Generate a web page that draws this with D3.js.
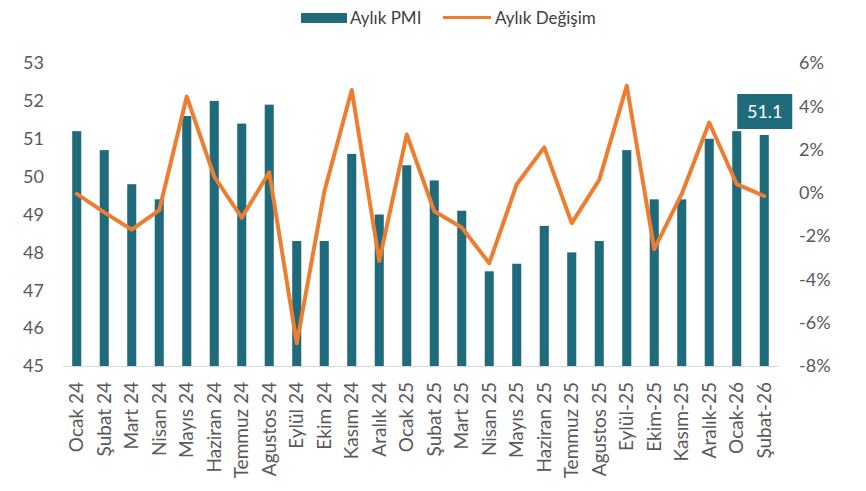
<!DOCTYPE html>
<html>
<head>
<meta charset="utf-8">
<script src="https://cdn.jsdelivr.net/npm/d3@7"></script>
<style>
  body { margin: 0; background: #fff; }
  text { font-family: Lato, "Open Sans", sans-serif; }
</style>
</head>
<body>
<script>
var months = ["Ocak 24", "Şubat 24", "Mart 24", "Nisan 24", "Mayıs 24", "Haziran 24",
  "Temmuz 24", "Agustos 24", "Eylül 24", "Ekim 24", "Kasım 24", "Aralık 24",
  "Ocak 25", "Şubat 25", "Mart 25", "Nisan 25", "Mayıs 25", "Haziran 25",
  "Temmuz 25", "Agustos 25", "Eylül-25", "Ekim-25", "Kasım-25", "Aralık-25",
  "Ocak-26", "Şubat-26"];

var pmi = [51.2, 50.7, 49.8, 49.4, 51.6, 52.0, 51.4, 51.9, 48.3, 48.3, 50.6, 49.0,
  50.3, 49.9, 49.1, 47.5, 47.7, 48.7, 48.0, 48.3, 50.7, 49.4, 49.4, 51.0, 51.2, 51.1];

var change = [-0.05, -0.9, -1.7, -0.8, 4.45, 0.75, -1.15, 0.95, -6.95, 0.05, 4.75, -3.15,
  2.7, -0.85, -1.6, -3.25, 0.4, 2.1, -1.4, 0.6, 4.95, -2.6, -0.05, 3.25, 0.4, -0.15];

var leftTicks = [45, 46, 47, 48, 49, 50, 51, 52, 53];
var rightTicks = [-8, -6, -4, -2, 0, 2, 4, 6];

var width = 866, height = 491;
var barColor = "#1f6a7b", lineColor = "#ed7d31", textColor = "#595959";

var svg = d3.select("body").append("svg")
  .attr("width", width)
  .attr("height", height);

var x = d3.scaleBand().domain(months).range([63, 778]).paddingInner(0.67).paddingOuter(0.335);
var yL = d3.scaleLinear().domain([45, 53]).range([366, 63]);
var yR = d3.scaleLinear().domain([-8, 6]).range([366, 63]);

// bars
svg.selectAll("rect.bar")
  .data(pmi)
  .enter().append("rect")
  .attr("class", "bar")
  .attr("x", function(d, i) { return x(months[i]); })
  .attr("width", x.bandwidth())
  .attr("y", function(d) { return yL(d); })
  .attr("height", function(d) { return yL(45) - yL(d); })
  .style("fill", barColor);

// baseline
svg.append("line")
  .attr("x1", 63).attr("x2", 778)
  .attr("y1", 366.5).attr("y2", 366.5)
  .style("stroke", "#d9d9d9")
  .style("stroke-width", 1);

// line
var line = d3.line()
  .x(function(d, i) { return x(months[i]) + x.bandwidth() / 2; })
  .y(function(d) { return yR(d); });

svg.append("path")
  .datum(change)
  .attr("d", line)
  .style("fill", "none")
  .style("stroke", lineColor)
  .style("stroke-width", 4)
  .style("stroke-linejoin", "round")
  .style("stroke-linecap", "round");

// left axis
var axL = svg.append("g")
  .attr("transform", "translate(44,0)")
  .call(d3.axisLeft(yL).tickValues(leftTicks).tickSize(0).tickPadding(0));
axL.select(".domain").remove();
axL.selectAll("text")
  .style("font-size", "18px")
  .style("fill", textColor)
  .style("font-family", "Lato, sans-serif");

// right axis
var axR = svg.append("g")
  .attr("transform", "translate(799,0)")
  .call(d3.axisRight(yR).tickValues(rightTicks).tickSize(0).tickPadding(0)
    .tickFormat(function(d) { return d + "%"; }));
axR.select(".domain").remove();
axR.selectAll("text")
  .style("font-size", "18px")
  .style("fill", textColor)
  .style("font-family", "Lato, sans-serif");

// x labels, rotated
var axB = svg.append("g")
  .attr("transform", "translate(0,366)")
  .call(d3.axisBottom(x).tickSize(0).tickPadding(0));
axB.select(".domain").remove();
axB.selectAll("text")
  .attr("transform", "rotate(-90)")
  .attr("x", -16)
  .attr("y", 0)
  .attr("dy", "0.35em")
  .style("text-anchor", "end")
  .style("font-size", "19px")
  .style("fill", textColor)
  .style("font-family", "Lato, sans-serif");

// value callout for last bar
var last = months.length - 1;
var cx = x(months[last]) + x.bandwidth() / 2;
svg.append("rect")
  .attr("x", cx - 27)
  .attr("y", 94)
  .attr("width", 55)
  .attr("height", 35)
  .style("fill", barColor);
svg.append("text")
  .attr("x", cx + 0.5)
  .attr("y", 118)
  .attr("text-anchor", "middle")
  .style("font-size", "18px")
  .style("fill", "#fff")
  .text(pmi[last].toFixed(1));

// legend
var lg = svg.append("g");
lg.append("rect")
  .attr("x", 301).attr("y", 13)
  .attr("width", 46).attr("height", 10)
  .style("fill", barColor);
lg.append("text")
  .attr("x", 350).attr("y", 24)
  .style("font-size", "17px")
  .style("fill", "#404040")
  .text("Aylık PMI");
lg.append("line")
  .attr("x1", 443).attr("x2", 491)
  .attr("y1", 17.5).attr("y2", 17.5)
  .style("stroke", lineColor)
  .style("stroke-width", 3);
lg.append("text")
  .attr("x", 495).attr("y", 24)
  .style("font-size", "17px")
  .style("fill", "#404040")
  .text("Aylık Değişim");
</script>
</body>
</html>
